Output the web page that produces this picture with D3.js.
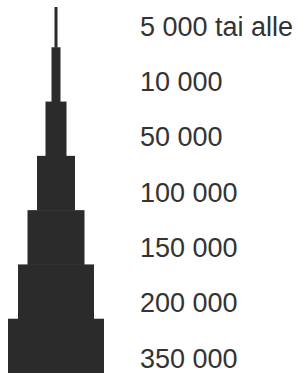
<!DOCTYPE html>
<html>
<head>
<meta charset="utf-8">
<script src="https://cdn.jsdelivr.net/npm/d3@7"></script>
<style>
  html, body { margin: 0; padding: 0; background: #fff; }
  svg { display: block; }
</style>
</head>
<body>
<svg id="chart"></svg>
<script>
// size classes, top (smallest) to bottom (largest)
const labels = ['5 000 tai alle', '10 000', '50 000', '100 000', '150 000', '200 000', '350 000'];
// relative width of each tier of the tower
const widths = [3, 9, 21, 38, 57, 76, 96];

const width = 303, height = 373;
const cx = 56;

const svg = d3.select('#chart')
  .attr('width', width)
  .attr('height', height);

const y = d3.scaleBand()
  .domain(labels)
  .range([-7, height])
  .padding(0);

const w = d3.scaleLinear()
  .domain([0, d3.max(widths)])
  .range([0, 96]);

const tiers = labels.map((l, i) => ({label: l, w: widths[i]}));

svg.append('g')
  .attr('fill', '#2b2b2b')
  .selectAll('rect')
  .data(tiers)
  .join('rect')
  .attr('x', d => cx - w(d.w) / 2)
  .attr('y', d => Math.max(y(d.label), 7))
  .attr('width', d => w(d.w))
  .attr('height', d => y(d.label) + y.bandwidth() - Math.max(y(d.label), 7) + 0.5);

// labels on the right, slightly wider spacing than the tiers
const ly = d3.scalePoint()
  .domain(labels)
  .range([26.5, 358.5]);

const axis = d3.axisRight(ly).tickSize(0).tickPadding(0);

svg.append('g')
  .attr('transform', 'translate(140,0)')
  .call(axis)
  .call(g => g.select('.domain').remove())
  .call(g => g.selectAll('text')
    .attr('fill', '#333')
    .attr('font-family', '"Liberation Sans", Arial, sans-serif')
    .attr('font-size', 27));
</script>
</body>
</html>
